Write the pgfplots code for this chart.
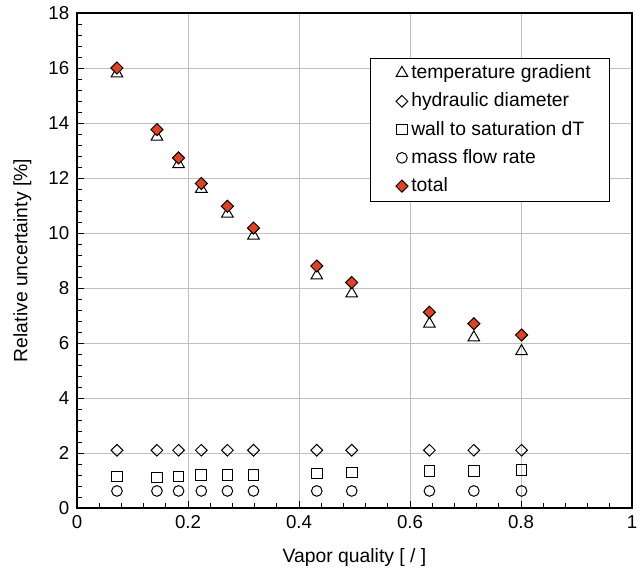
\documentclass[border=0pt]{standalone}
\usepackage{fontspec}
\setmainfont{Liberation Sans}
\usepackage{pgfplots}
\pgfplotsset{compat=1.18}
\definecolor{totred}{RGB}{226,64,31}
\pgfplotsset{mylegimg/.style={legend image code/.code={%
  \path[draw=none, fill=none] (-12pt,-1pt) rectangle (5pt,1pt);
  \draw[##1] plot coordinates {(0pt,0pt)};}}}
\begin{document}
\fontsize{14}{16}\selectfont
\begin{tikzpicture}
\begin{axis}[
  scale only axis, width=416.25pt, height=371.25pt,
  xmin=0, xmax=1, ymin=0, ymax=18,
  xtick={0,0.2,0.4,0.6,0.8,1}, ytick={0,2,...,18},
  minor x tick num=4, minor y tick num=4,
  tick pos=left, tick align=inside,
  major tick length=5pt, minor tick length=3.5pt,
  every tick/.style={black, line width=0.6pt},
  grid=major, major grid style={black!25, line width=0.7pt},
  axis line style={black, line width=0.8pt},
  /pgf/number format/assume math mode=true,
  ticklabel style={font=\fontsize{14}{16}\selectfont},
  xticklabel style={yshift=-1pt},
  yticklabel style={xshift=-1pt},
  label style={font=\fontsize{14.5}{17}\selectfont},
  xlabel={Vapor quality [ / ]},
  ylabel={Relative uncertainty [\%]},
  xlabel style={at={(axis description cs:0.5,0)}, anchor=base, yshift=-41pt},
  ylabel style={at={(axis description cs:-0.0985,0.5)}, anchor=center},
  legend style={at={(axis cs:0.96,16.38)}, anchor=north east, draw=black, line width=0.6pt,
    font=\fontsize{14.5}{17}\selectfont, row sep=4.6pt, inner xsep=12pt, inner ysep=3pt},
  legend cell align=left,
  clip=false,
]
\addplot[only marks, mylegimg, mark=triangle, mark size=5.0pt, mark options={fill=white, draw=black, line width=0.75pt}]
 coordinates {(0.072,15.8)(0.144,13.5)(0.183,12.5)(0.224,11.6)(0.271,10.7)(0.318,9.9)(0.432,8.45)(0.495,7.8)(0.635,6.7)(0.715,6.2)(0.801,5.7)};
\addlegendentry{temperature gradient}
\addplot[only marks, mylegimg, mark=square, mark size=3.1pt, mark options={rotate=45, fill=white, draw=black, line width=0.75pt}]
 coordinates {(0.072,2.1)(0.144,2.1)(0.183,2.1)(0.224,2.1)(0.271,2.1)(0.318,2.1)(0.432,2.1)(0.495,2.1)(0.635,2.1)(0.715,2.1)(0.801,2.1)};
\addlegendentry{hydraulic diameter}
\addplot[only marks, mylegimg, mark=square, mark size=4.0pt, mark options={fill=white, draw=black, line width=0.75pt}]
 coordinates {(0.072,1.14)(0.144,1.11)(0.183,1.14)(0.224,1.19)(0.271,1.19)(0.318,1.19)(0.432,1.25)(0.495,1.29)(0.635,1.34)(0.715,1.34)(0.801,1.39)};
\addlegendentry{wall to saturation dT}
\addplot[only marks, mylegimg, mark=o, mark size=4.0pt, mark options={fill=white, draw=black, line width=0.75pt}]
 coordinates {(0.072,0.62)(0.144,0.62)(0.183,0.62)(0.224,0.62)(0.271,0.62)(0.318,0.62)(0.432,0.62)(0.495,0.62)(0.635,0.62)(0.715,0.62)(0.801,0.62)};
\addlegendentry{mass flow rate}
\addplot[only marks, mylegimg, mark=square*, mark size=3.2pt, mark options={rotate=45, fill=totred, draw=black, line width=0.75pt}]
 coordinates {(0.072,16.0)(0.144,13.76)(0.183,12.73)(0.224,11.8)(0.271,10.97)(0.318,10.18)(0.432,8.8)(0.495,8.2)(0.635,7.12)(0.715,6.7)(0.801,6.29)};
\addlegendentry{total}
\end{axis}
\pgfresetboundingbox
\path (current axis.south west) ++(-57.75pt,-47.25pt) coordinate (bbA);
\path (current axis.north east) ++(9pt,9.75pt) coordinate (bbB);
\useasboundingbox (bbA) rectangle (bbB);
\end{tikzpicture}
\end{document}
